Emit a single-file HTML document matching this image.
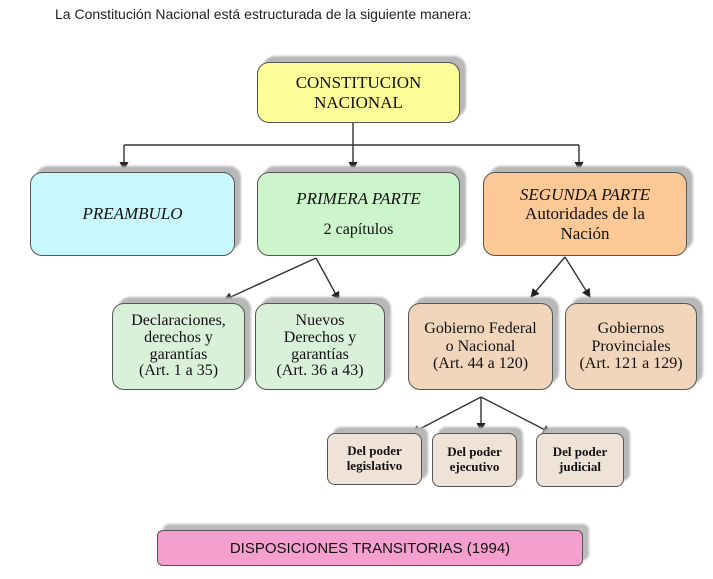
<!DOCTYPE html>
<html><head><meta charset="utf-8"><style>
body{margin:0;width:713px;height:579px;background:#fff;position:relative;overflow:hidden;font-family:"Liberation Serif",serif;color:#111}
.t{position:absolute;left:55px;top:6px;font:14px "Liberation Sans",sans-serif;color:#222}
.b{position:absolute;box-sizing:border-box;border:1.5px solid #555;border-radius:12px;display:flex;flex-direction:column;align-items:center;justify-content:center;text-align:center;box-shadow:6px -6px 2px #b8b8b8;line-height:1.15}
.i{font-style:italic}
svg{position:absolute;left:0;top:0}
</style></head><body>
<div class="t">La Constitución Nacional está estructurada de la siguiente manera:</div>
<svg width="713" height="579">
<defs><marker id="a" markerWidth="9" markerHeight="9" refX="8" refY="4.5" orient="auto" markerUnits="userSpaceOnUse"><path d="M0,0 L9,4.5 L0,9z" fill="#222"/></marker></defs>
<g stroke="#333" stroke-width="1.4" fill="none">
<path d="M353 123 V145 M124 145 H579"/>
<path d="M124 145 V170" marker-end="url(#a)"/>
<path d="M353 145 V170" marker-end="url(#a)"/>
<path d="M579 145 V170" marker-end="url(#a)"/>
<path d="M316 258 L224 300" marker-end="url(#a)"/>
<path d="M316 258 L339 300" marker-end="url(#a)"/>
<path d="M565 257 L531 297" marker-end="url(#a)"/>
<path d="M565 257 L590 297" marker-end="url(#a)"/>
<path d="M481 397 L412 433" marker-end="url(#a)"/>
<path d="M481 397 L481 431" marker-end="url(#a)"/>
<path d="M481 397 L551 433" marker-end="url(#a)"/>
</g></svg>
<div class="b" style="left:257px;top:62px;width:203px;height:61px;background:#fdfd9a;font-size:17px">CONSTITUCION<br>NACIONAL</div>
<div class="b i" style="left:30px;top:172px;width:205px;height:84px;background:#c8f8fc;font-size:17px">PREAMBULO</div>
<div class="b" style="left:257px;top:172px;width:203px;height:84px;background:#ccf5cc;font-size:17px"><span class="i">PRIMERA PARTE</span><span style="margin-top:12px;font-size:16px">2 capítulos</span></div>
<div class="b" style="left:483px;top:172px;width:204px;height:84px;background:#fbc896;font-size:17px"><span class="i">SEGUNDA PARTE</span>Autoridades de la<br>Nación</div>
<div class="b" style="left:112px;top:303px;width:133px;height:87px;background:#d9f0d9;font-size:16px;line-height:1.05">Declaraciones,<br>derechos y<br>garantías<br>(Art. 1 a 35)</div>
<div class="b" style="left:255px;top:303px;width:130px;height:87px;background:#d9f0d9;font-size:16px;line-height:1.05">Nuevos<br>Derechos y<br>garantías<br>(Art. 36 a 43)</div>
<div class="b" style="left:408px;top:303px;width:145px;height:87px;background:#f2d6bc;font-size:16px;line-height:1.1">Gobierno Federal<br>o Nacional<br>(Art. 44 a 120)</div>
<div class="b" style="left:565px;top:303px;width:132px;height:87px;background:#f2d6bc;font-size:16px;line-height:1.1">Gobiernos<br>Provinciales<br>(Art. 121 a 129)</div>
<div class="b" style="left:327px;top:433px;width:95px;height:52px;background:#efe2d6;font-size:13px;font-weight:bold;border-radius:8px">Del poder<br>legislativo</div>
<div class="b" style="left:432px;top:433px;width:85px;height:54px;background:#efe2d6;font-size:13px;font-weight:bold;border-radius:8px">Del poder<br>ejecutivo</div>
<div class="b" style="left:536px;top:433px;width:88px;height:54px;background:#efe2d6;font-size:13px;font-weight:bold;border-radius:8px">Del poder<br>judicial</div>
<div class="b" style="left:157px;top:530px;width:426px;height:36px;background:#f59fcf;font:15px 'Liberation Sans',sans-serif;border-radius:6px;box-shadow:6px -6px 2px #bbb">DISPOSICIONES TRANSITORIAS (1994)</div>
</body></html>
